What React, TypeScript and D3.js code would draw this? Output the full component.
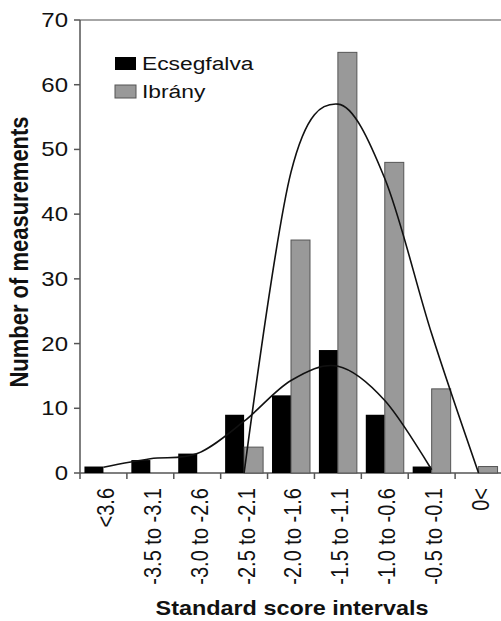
import React from 'react';
import * as d3 from 'd3';

// score intervals on the x axis
const categories = [
  '<3.6', '-3.5 to -3.1', '-3.0 to -2.6', '-2.5 to -2.1', '-2.0 to -1.6',
  '-1.5 to -1.1', '-1.0 to -0.6', '-0.5 to -0.1', '0<',
];
const ecsegfalva = [1, 2, 3, 9, 12, 19, 9, 1, 0];
const ibrany = [0, 0, 0, 4, 36, 65, 48, 13, 1];

// fitted curves at each interval centre
const ecsegfalvaFitCats = categories.slice(0, 8);
const ecsegfalvaFit = [0.9, 2.2, 3, 8, 14.3, 16.5, 11.2, 0.5];
const ibranyFitCats = categories.slice(3, 9);
const ibranyFit = [0, 46.5, 57, 45.5, 21.5, 0];

const yTicks = [0, 10, 20, 30, 40, 50, 60, 70];

const W = 501;
const H = 621;
const FONT = '"Liberation Sans", Arial, sans-serif';
const SX = 1.2; // the source picture is stretched horizontally

const App = () => {
  const x = d3.scaleBand<string>().domain(categories).range([80, 502]).paddingInner(0.19).paddingOuter(0.095);
  const step = x.step();
  const y = d3.scaleLinear().domain([0, 70]).range([473, 20]);
  const barW = x.bandwidth() / 2;
  const cx = (c: string) => (x(c) as number) + x.bandwidth() / 2;

  const line = d3.line<[string, number]>()
    .x(d => cx(d[0]))
    .y(d => y(d[1]))
    .curve(d3.curveCardinal);

  const ecsegPath = line(ecsegfalvaFitCats.map((c, i) => [c, ecsegfalvaFit[i]]));
  const ibranyPath = line(ibranyFitCats.map((c, i) => [c, ibranyFit[i]]));

  const x0 = 80;
  const boundaries = d3.range(categories.length + 1).map(i => x0 + i * step);

  return (
    <svg width={W} height={H} style={{ display: 'block', position: 'absolute', left: 0, top: 0, background: '#fff' }}>
      {/* frame */}
      <line x1={x0} x2={W} y1={y(70)} y2={y(70)} stroke="#888" strokeWidth={1.5} />
      <line x1={x0} x2={x0} y1={y(70)} y2={y(0)} stroke="#555" strokeWidth={1.5} />
      <line x1={x0} x2={W} y1={y(0)} y2={y(0)} stroke="#555" strokeWidth={1.5} />

      {/* bars */}
      {categories.map((c, i) => (
        <g key={c}>
          {ecsegfalva[i] > 0 && (
            <rect x={x(c)} y={y(ecsegfalva[i])} width={barW} height={y(0) - y(ecsegfalva[i])} fill="#000" />
          )}
          {ibrany[i] > 0 && (
            <rect x={(x(c) as number) + barW} y={y(ibrany[i])} width={barW} height={y(0) - y(ibrany[i])}
              fill="#999" stroke="#555" strokeWidth={1} />
          )}
        </g>
      ))}

      {/* fitted curves */}
      <path d={ecsegPath || ''} fill="none" stroke="#111" strokeWidth={1.6} />
      <path d={ibranyPath || ''} fill="none" stroke="#111" strokeWidth={1.6} />

      {/* y axis */}
      {yTicks.map(t => (
        <g key={t}>
          <line x1={x0 - 6} x2={x0} y1={y(t)} y2={y(t)} stroke="#555" strokeWidth={1.5} />
          <text transform={`translate(68,${y(t)}) scale(${SX},1)`} textAnchor="end" dy="0.35em"
            fontFamily={FONT} fontSize={20} fill="#111">{t}</text>
        </g>
      ))}

      {/* x axis */}
      {boundaries.map((b, i) => (
        <line key={i} x1={b} x2={b} y1={y(0)} y2={y(0) + 6} stroke="#555" strokeWidth={1.5} />
      ))}
      {categories.map(c => (
        <text key={c} transform={`translate(${cx(c) + 2},488) scale(${SX},1) rotate(-90)`} textAnchor="end" dy="0.35em"
          fontFamily={FONT} fontSize={20} fill="#111">{c}</text>
      ))}

      {/* axis titles */}
      <text transform={`translate(292,615) scale(${SX},1)`} textAnchor="middle" fontFamily={FONT}
        fontSize={19.5} fontWeight="bold" fill="#111">Standard score intervals</text>
      <text transform={`translate(19,252) scale(${SX},1) rotate(-90)`} textAnchor="middle" dy="0.35em" fontFamily={FONT}
        fontSize={22} fontWeight="bold" fill="#111">Number of measurements</text>

      {/* legend */}
      <rect x={115} y={57} width={21} height={13} fill="#000" />
      <text transform={`translate(142,70) scale(${SX},1)`} fontFamily={FONT} fontSize={19} fill="#111">Ecsegfalva</text>
      <rect x={115} y={85} width={21} height={13} fill="#999" stroke="#555" strokeWidth={1} />
      <text transform={`translate(142,98) scale(${SX},1)`} fontFamily={FONT} fontSize={19} fill="#111">Ibrány</text>
    </svg>
  );
};

export default App;
